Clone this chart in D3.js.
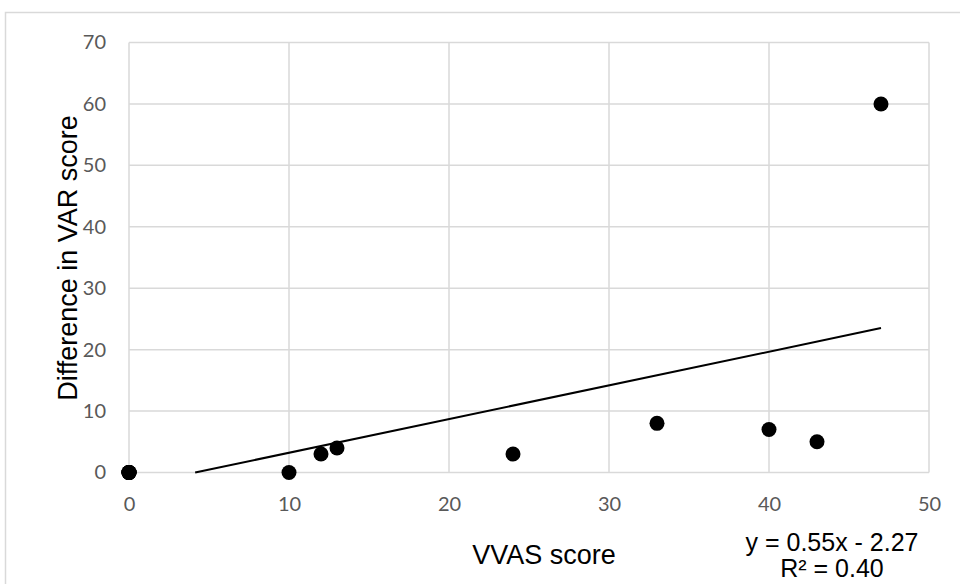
<!DOCTYPE html>
<html>
<head>
<meta charset="utf-8">
<script src="https://cdn.jsdelivr.net/npm/d3@7"></script>
<style>
  html, body { margin: 0; padding: 0; background: #fff; }
  svg { display: block; }
</style>
</head>
<body>
<svg id="chart" width="960" height="584"></svg>
<script>
// VVAS score vs. difference in VAR score (each entry is one subject)
const vvasScore = [0, 0, 0, 0, 0, 0, 10, 12, 13, 24, 33, 40, 43, 47];
const varDifference = [0, 0, 0, 0, 0, 0, 0, 3, 4, 3, 8, 7, 5, 60];
const xTicks = [0, 10, 20, 30, 40, 50];
const yTicks = [0, 10, 20, 30, 40, 50, 60, 70];

const svg = d3.select("#chart");
const W = 960, H = 584;
const plot = { left: 129, right: 929, top: 42.5, bottom: 472.5 };

// chart area border
svg.append("rect")
  .attr("x", 5.5).attr("y", 12.5)
  .attr("width", W + 20).attr("height", H + 20)
  .attr("fill", "#fff").attr("stroke", "#d9d9d9").attr("stroke-width", 1.5);

const x = d3.scaleLinear().domain([0, 50]).range([plot.left, plot.right]);
const y = d3.scaleLinear().domain([0, 70]).range([plot.bottom, plot.top]);

// gridlines
const grid = svg.append("g").attr("stroke", "#d9d9d9").attr("stroke-width", 1.5);
grid.selectAll("line.v").data(xTicks).join("line")
  .attr("x1", d => x(d)).attr("x2", d => x(d))
  .attr("y1", plot.top).attr("y2", plot.bottom);
grid.selectAll("line.h").data(yTicks).join("line")
  .attr("x1", plot.left).attr("x2", plot.right)
  .attr("y1", d => y(d)).attr("y2", d => y(d));

// axes (labels only; lines come from the grid)
const tickFont = "Lato, 'Noto Sans', sans-serif";
const xAxis = svg.append("g")
  .attr("transform", `translate(0,${plot.bottom})`)
  .call(d3.axisBottom(x).tickValues(xTicks).tickSize(0).tickPadding(24));
const yAxis = svg.append("g")
  .attr("transform", `translate(${plot.left},0)`)
  .call(d3.axisLeft(y).tickValues(yTicks).tickSize(0).tickPadding(23));
[xAxis, yAxis].forEach(a => {
  a.select(".domain").remove();
  a.selectAll("text")
    .attr("fill", "#595959")
    .style("font-family", tickFont)
    .style("font-size", "20px");
});

// least-squares trendline
const n = vvasScore.length;
const mx = d3.mean(vvasScore), my = d3.mean(varDifference);
let sxy = 0, sxx = 0, syy = 0;
for (let i = 0; i < n; i++) {
  sxy += (vvasScore[i] - mx) * (varDifference[i] - my);
  sxx += (vvasScore[i] - mx) ** 2;
  syy += (varDifference[i] - my) ** 2;
}
const slope = sxy / sxx;
const intercept = my - slope * mx;
const r2 = (sxy * sxy) / (sxx * syy);
const xStart = Math.max(d3.min(vvasScore), -intercept / slope);
const xEnd = d3.max(vvasScore);

svg.append("line")
  .attr("x1", x(xStart)).attr("y1", y(slope * xStart + intercept))
  .attr("x2", x(xEnd)).attr("y2", y(slope * xEnd + intercept))
  .attr("stroke", "#000").attr("stroke-width", 2);

// data points
svg.append("g").selectAll("circle")
  .data(vvasScore.map((v, i) => [v, varDifference[i]]))
  .join("circle")
  .attr("cx", d => x(d[0])).attr("cy", d => y(d[1]))
  .attr("r", 7.5).attr("fill", "#000");

// axis titles
const titleFont = "'Liberation Sans', Arial, sans-serif";
svg.append("text")
  .attr("x", 544).attr("y", 564)
  .attr("text-anchor", "middle")
  .style("font-family", titleFont).style("font-size", "27px")
  .attr("fill", "#000")
  .text("VVAS score");
svg.append("text")
  .attr("transform", "translate(77,258) rotate(-90)")
  .attr("text-anchor", "middle")
  .style("font-family", titleFont).style("font-size", "27px")
  .attr("fill", "#000")
  .text("Difference in VAR score");

// trendline equation
const sign = intercept < 0 ? "-" : "+";
const eq = svg.append("g")
  .style("font-family", titleFont).style("font-size", "25px")
  .attr("text-anchor", "middle").attr("fill", "#000");
eq.append("text").attr("x", 832).attr("y", 551)
  .text(`y = ${slope.toFixed(2)}x ${sign} ${Math.abs(intercept).toFixed(2)}`);
eq.append("text").attr("x", 832).attr("y", 577)
  .text(`R² = ${r2.toFixed(2)}`);
</script>
</body>
</html>
